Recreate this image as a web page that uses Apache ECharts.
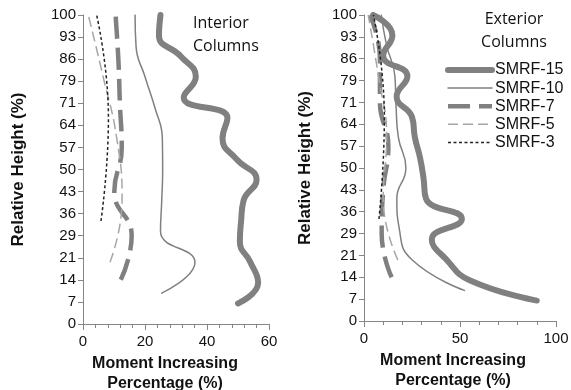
<!DOCTYPE html>
<html><head><meta charset="utf-8">
<script src="https://cdn.jsdelivr.net/npm/echarts@6/dist/echarts.min.js"></script>
<style>html,body{margin:0;padding:0;background:#fff}#c{width:571px;height:390px}</style>
</head><body><div id="c"></div><script>
// ---- data ----
const seriesNames = ['SMRF-15', 'SMRF-10', 'SMRF-7', 'SMRF-5', 'SMRF-3'];
const yTickLabels = ['0','7','14','21','29','36','43','50','57','64','71','79','86','93','100'];
const leftXTicks = [0, 20, 40, 60];
const rightXTicks = [0, 50, 100];

const height15 = [6.67, 13.33, 20, 26.67, 33.33, 40, 46.67, 53.33, 60, 66.67, 73.33, 80, 86.67, 93.33, 100];
const height10 = [10, 20, 30, 40, 50, 60, 70, 80, 90, 100];
const height7  = [14.29, 28.57, 42.86, 57.14, 71.43, 85.71, 100];
const height5  = [20, 40, 60, 80, 100];
const height3  = [33.33, 66.67, 100];

// Interior columns
const interior15 = [50, 56.5, 54, 50.6, 51, 51.8, 56, 49.5, 45, 46.6, 32.5, 36.4, 31.5, 24.5, 25];
const interior10 = [25.4, 36.1, 25, 25.4, 25.7, 25.6, 23.2, 20, 17.1, 16.8];
const interior7  = [12.2, 15.7, 10.1, 12.5, 11.9, 11.4, 10.5];
const interior5  = [8.7, 12.6, 10.9, 6.5, 1.7];
const interior3  = [5.8, 8.2, 4.4];

// Exterior columns
const exterior15 = [90, 55, 43, 35.3, 51, 32.3, 31, 29.2, 26.5, 25, 17, 22.6, 10, 14.8, 4.8];
const exterior10 = [52.3, 25, 18.4, 17.1, 21.8, 17.9, 16.7, 16.1, 11.8, 9];
const exterior7  = [14.4, 9.2, 10, 12.7, 8.3, 8.3, 3.1];
const exterior5  = [17.6, 10, 11.8, 7.5, 2.2];
const exterior3  = [7.8, 10.6, 4.9];

// ---- build ----
const heights = [height15, height10, height7, height5, height3];
const interiorVals = [interior15, interior10, interior7, interior5, interior3];
const exteriorVals = [exterior15, exterior10, exterior7, exterior5, exterior3];

const styles = [
  {color: '#808080', width: 6, type: 'solid', cap: 'round'},
  {color: '#808080', width: 1.5, type: 'solid', cap: 'round'},
  {color: '#808080', width: 4.5, type: [22, 9], cap: 'butt'},
  {color: '#a6a6a6', width: 1.5, type: [10, 5], cap: 'butt'},
  {color: '#222222', width: 1.5, type: [3, 2.5], cap: 'butt'}
];

const axisColor = '#868686';
const labelFont = "'Liberation Sans', Arial, sans-serif";
const step = 100 / (yTickLabels.length - 1);

function pairs(xs, hs) { return xs.map((v, i) => [v, hs[i]]); }

function yAxis(gridIndex, gap) {
  return {
    type: 'value', gridIndex, min: 0, max: 100, interval: step,
    axisLine: {show: true, lineStyle: {color: axisColor, width: 1}},
    axisTick: {show: true, length: 5, lineStyle: {color: axisColor}},
    splitLine: {show: false},
    axisLabel: {
      fontSize: 15, fontFamily: labelFont, color: '#111', margin: 7,
      formatter: v => yTickLabels[Math.round(v / step)]
    },
    name: 'Relative Height (%)', nameLocation: 'middle', nameGap: gap,
    nameTextStyle: {fontSize: 17, fontWeight: 'bold', fontFamily: labelFont, color: '#111'}
  };
}
function xAxis(gridIndex, ticks, shift) {
  return {
    type: 'value', gridIndex, min: ticks[0], max: ticks[ticks.length - 1], interval: ticks[1] - ticks[0],
    axisLine: {show: true, lineStyle: {color: axisColor, width: 1}},
    axisTick: {show: true, length: 6, lineStyle: {color: axisColor}},
    minorTick: {show: true, splitNumber: 5, length: 4, lineStyle: {color: axisColor}},
    splitLine: {show: false},
    axisLabel: {fontSize: 15, fontFamily: labelFont, color: '#111', margin: 10},
    name: 'Moment Increasing\nPercentage (%)', nameLocation: 'middle', nameGap: 25,
    nameTextStyle: {fontSize: 16, fontWeight: 'bold', fontFamily: labelFont, color: '#111',
      lineHeight: 20, padding: [0, shift, 0, 0]}
  };
}

const series = [];
[interiorVals, exteriorVals].forEach((vals, gi) => {
  vals.forEach((v, si) => {
    const s = styles[si];
    series.push({
      name: seriesNames[si], type: 'line', xAxisIndex: gi, yAxisIndex: gi,
      data: pairs(v, heights[si]), smooth: 0.5, symbol: 'none',
      lineStyle: {color: s.color, width: s.width, type: s.type, cap: s.cap, join: 'round'},
      itemStyle: {color: s.color},
      z: 2 + si
    });
  });
});

const option = {
  animation: false,
  backgroundColor: '#fff',
  title: [
    {text: 'Interior\nColumns', left: 193, top: 12, padding: 0,
      textStyle: {fontFamily: "'Open Sans', sans-serif", fontSize: 16, fontWeight: 'normal', color: '#111', lineHeight: 23}},
    {text: 'Exterior\nColumns', left: 514, top: 8, padding: 0, textAlign: 'center',
      textStyle: {fontFamily: "'Open Sans', sans-serif", fontSize: 16, fontWeight: 'normal', color: '#111', lineHeight: 23}}
  ],
  legend: {
    orient: 'vertical', left: 445, top: 62, padding: 0, itemWidth: 44, itemHeight: 14, itemGap: 2.1,
    data: seriesNames,
    itemStyle: {opacity: 0},
    lineStyle: {width: 'inherit'},
    textStyle: {fontSize: 16, fontFamily: labelFont, color: '#111', lineHeight: 14, padding: [0, 0, 0, -2]}
  },
  grid: [
    {left: 83, top: 15, width: 186, height: 309, outerBoundsMode: 'none', containLabel: false},
    {left: 364, top: 15, width: 192, height: 306, outerBoundsMode: 'none', containLabel: false}
  ],
  xAxis: [xAxis(0, leftXTicks, 22), xAxis(1, rightXTicks, 14)],
  yAxis: [yAxis(0, 56), yAxis(1, 50)],
  series
};
const chart = echarts.init(document.getElementById('c'));
chart.setOption(option);
</script></body></html>
